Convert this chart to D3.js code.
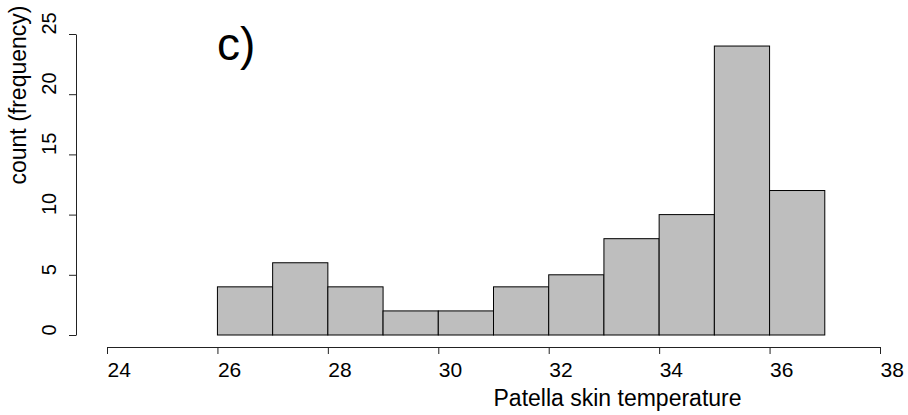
<!DOCTYPE html>
<html>
<head>
<meta charset="utf-8">
<script src="https://cdn.jsdelivr.net/npm/d3@7"></script>
<style>
  html, body { margin: 0; padding: 0; background: #fff; }
  svg { display: block; }
  text { font-family: "Liberation Sans", Arial, Helvetica, sans-serif; fill: #000; }
</style>
</head>
<body>
<svg id="chart" width="908" height="415"></svg>
<script>
// Histogram bins (lower edge, upper edge) and counts
const binStart = [26, 27, 28, 29, 30, 31, 32, 33, 34, 35, 36];
const binEnd   = [27, 28, 29, 30, 31, 32, 33, 34, 35, 36, 37];
const counts   = [4, 6, 4, 2, 2, 4, 5, 8, 10, 24, 12];
const xTicks = [24, 26, 28, 30, 32, 34, 36, 38];
const yTicks = [0, 5, 10, 15, 20, 25];

const svg = d3.select("#chart");

const x = d3.scaleLinear().domain([24, 38]).range([107, 880]);
const y = d3.scaleLinear().domain([0, 25]).range([335, 34]);

const bins = binStart.map((s, i) => ({ x0: s, x1: binEnd[i], n: counts[i] }));

// bars
svg.append("g")
  .selectAll("rect")
  .data(bins)
  .join("rect")
  .attr("x", d => x(d.x0))
  .attr("y", d => y(d.n))
  .attr("width", d => x(d.x1) - x(d.x0))
  .attr("height", d => y(0) - y(d.n))
  .attr("fill", "#bebebe")
  .attr("stroke", "#000")
  .attr("stroke-width", 1);

// x axis: tick labels start at their tick
const xAxis = svg.append("g")
  .attr("transform", "translate(0,347)")
  .call(d3.axisBottom(x).tickValues(xTicks).tickSize(7).tickSizeOuter(0));
xAxis.select(".domain").attr("stroke", "#222");
xAxis.selectAll(".tick line").attr("stroke", "#222");
xAxis.selectAll(".tick text")
  .attr("font-size", 21)
  .attr("font-family", "Liberation Sans, Arial, sans-serif")
  .attr("text-anchor", "start")
  .attr("x", 0)
  .attr("y", 30)
  .attr("dy", 0);

// y axis with rotated tick labels, each starting at its tick
const yAxis = svg.append("g")
  .attr("transform", "translate(76,0)")
  .call(d3.axisLeft(y).tickValues(yTicks).tickSize(7).tickSizeOuter(0));
yAxis.select(".domain").attr("stroke", "#222");
yAxis.selectAll(".tick line").attr("stroke", "#222");
yAxis.selectAll(".tick text")
  .attr("font-size", 20)
  .attr("font-family", "Liberation Sans, Arial, sans-serif")
  .attr("x", 0).attr("y", 0).attr("dy", 0)
  .attr("text-anchor", "start")
  .attr("transform", "translate(-20,0) rotate(-90)");

// axis titles, starting at the middle of the plotting range
svg.append("text")
  .attr("x", (x.range()[0] + x.range()[1]) / 2).attr("y", 406)
  .attr("text-anchor", "start")
  .attr("font-size", 23)
  .text("Patella skin temperature");

svg.append("text")
  .attr("transform", `translate(26,${(y.range()[0] + y.range()[1]) / 2}) rotate(-90)`)
  .attr("text-anchor", "start")
  .attr("font-size", 23)
  .text("count (frequency)");

// panel label
svg.append("text")
  .attr("x", 217).attr("y", 60)
  .attr("font-size", 46)
  .text("c)");
</script>
</body>
</html>
